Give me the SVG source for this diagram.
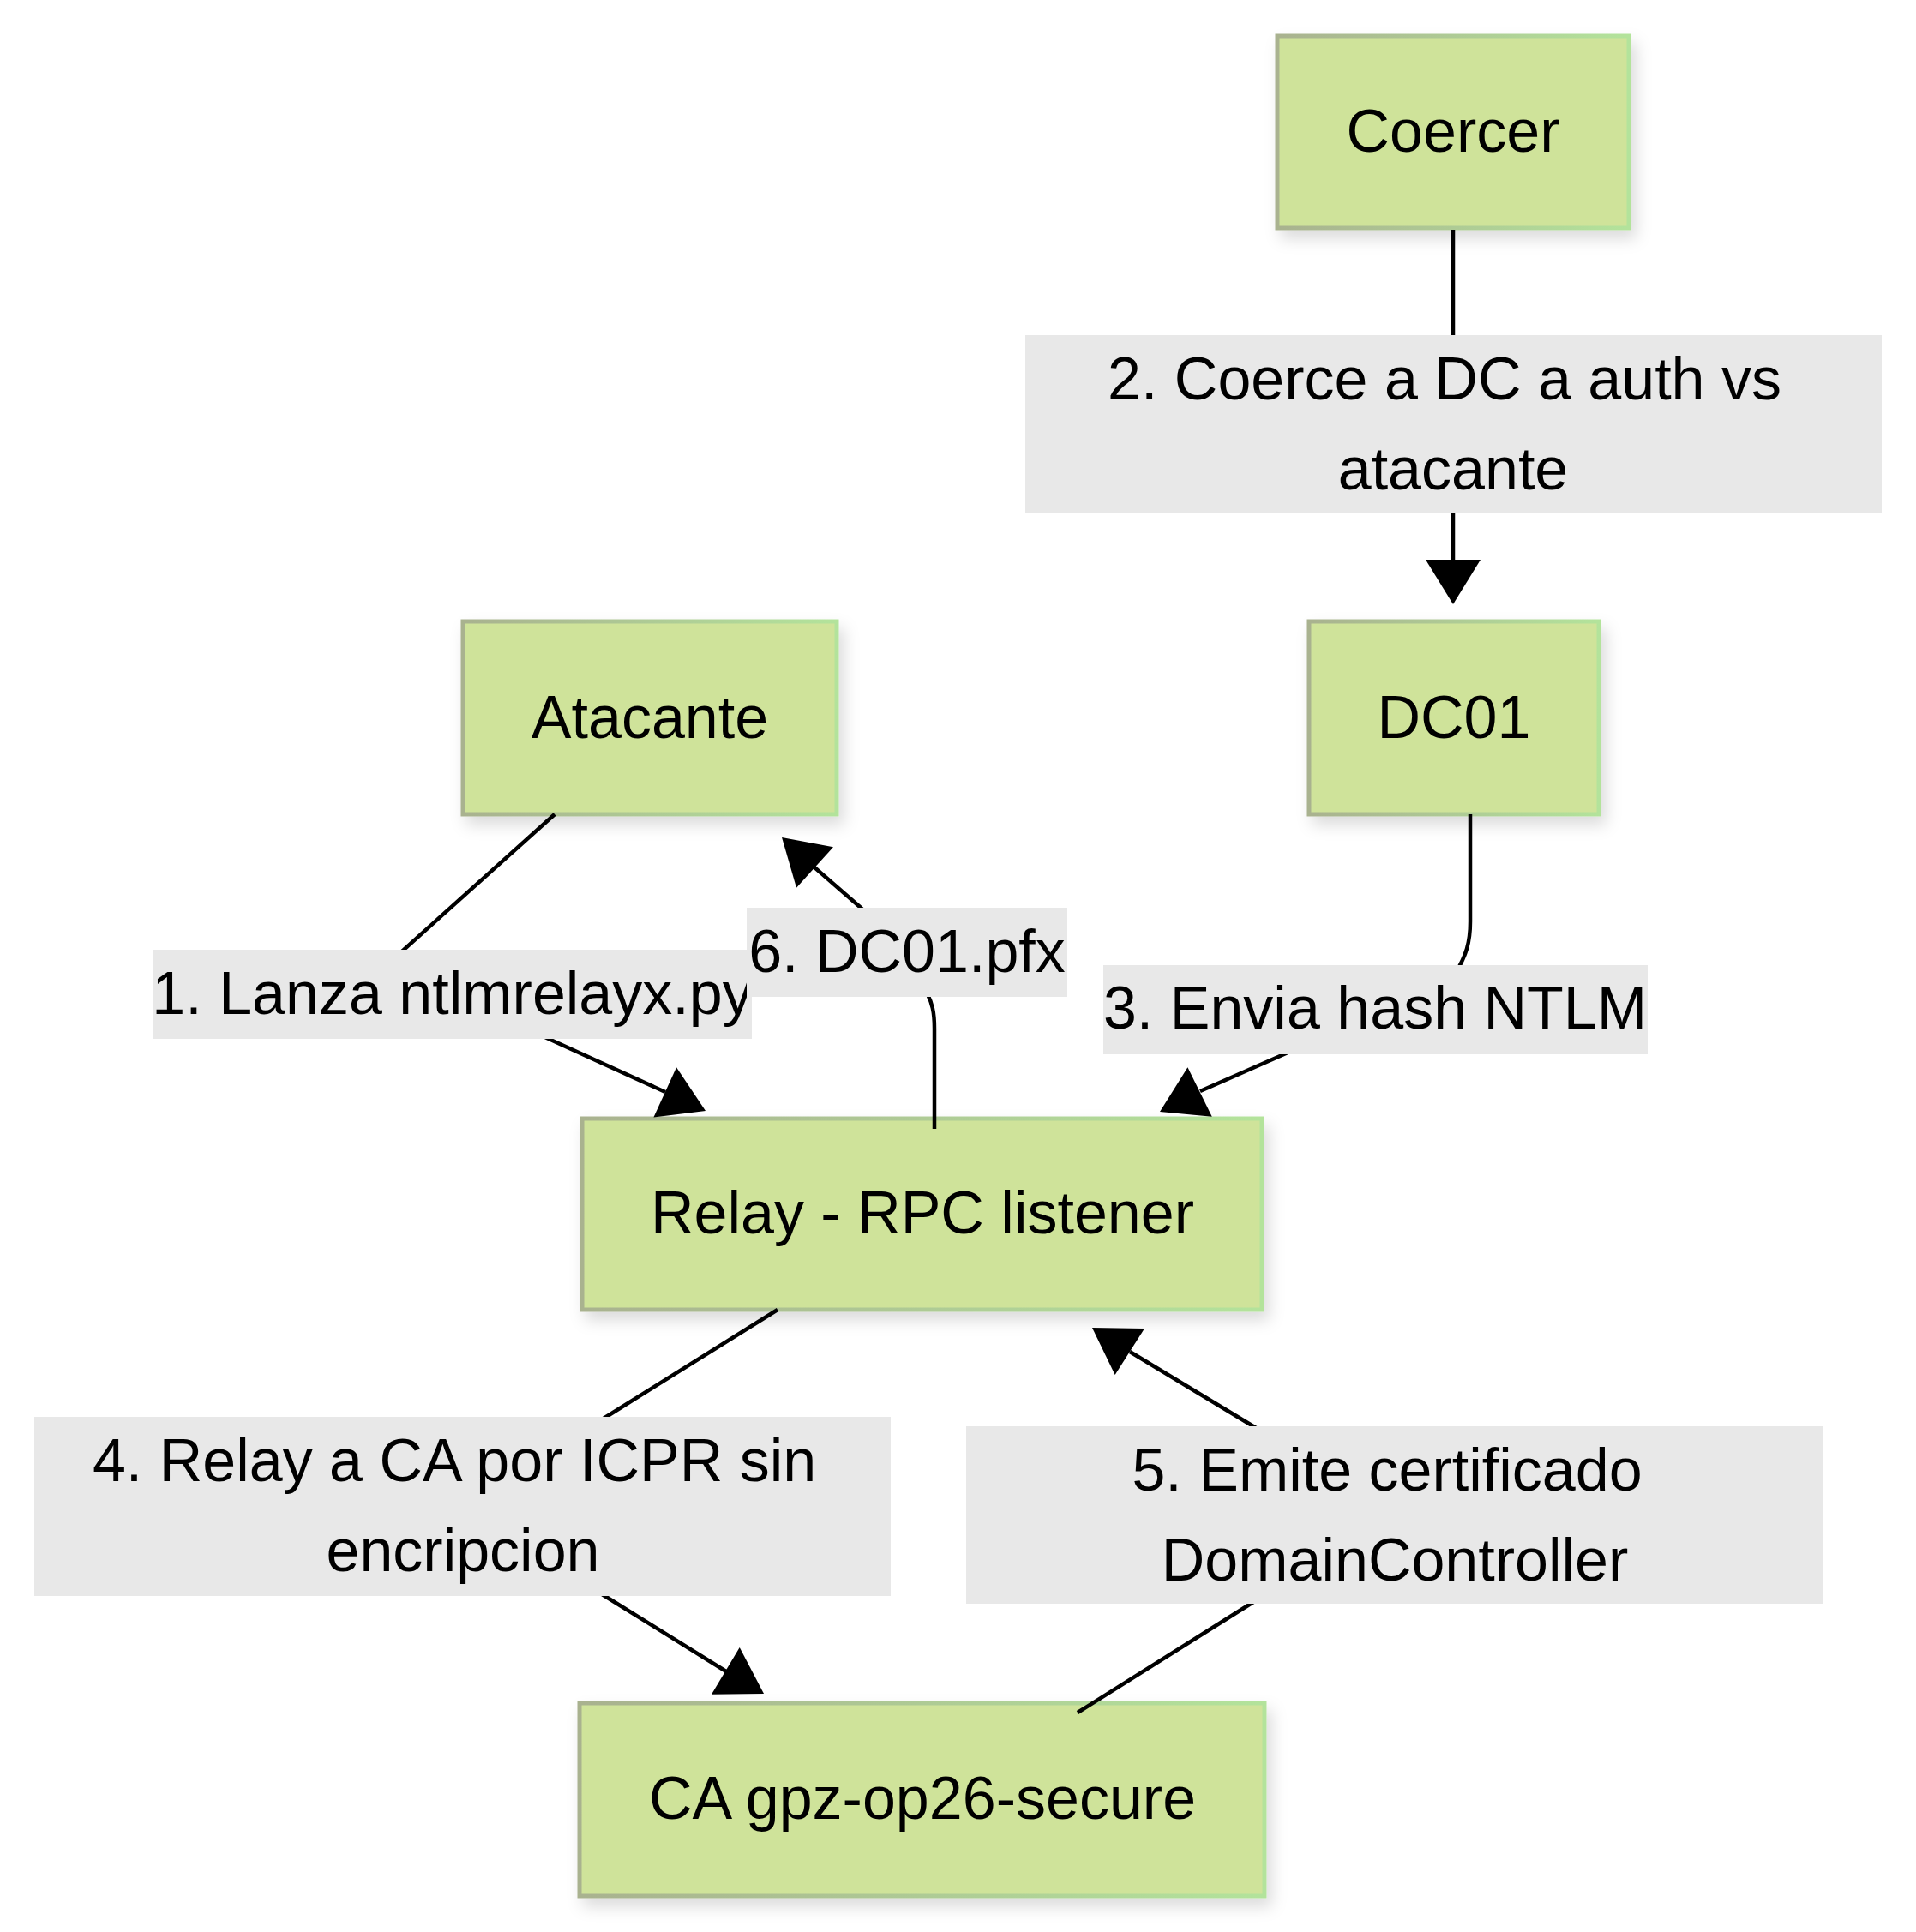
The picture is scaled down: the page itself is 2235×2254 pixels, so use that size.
<svg xmlns="http://www.w3.org/2000/svg" xmlns:xlink="http://www.w3.org/1999/xlink" width="2235" height="2254" viewBox="0 0 2235 2254">
<style>
.node rect{fill:#cfe39a;stroke:url(#bord);stroke-width:5;filter:url(#shadow)}
.node text,.lbl text{font-family:"Liberation Sans",Arial,sans-serif;font-size:70px;fill:#000;text-anchor:middle}
.lbl rect{fill:#e8e8e8}
.edge{fill:none;stroke:#000;stroke-width:4.5}
.ah{fill:#000}
</style>
<defs>
<linearGradient id="bord" x1="0" y1="0" x2="1" y2="0">
<stop offset="0" stop-color="#a9b28f"/>
<stop offset="1" stop-color="#b3e39b"/>
</linearGradient>
<filter id="shadow" x="-10%" y="-10%" width="130%" height="140%">
<feDropShadow dx="6" dy="10" stdDeviation="9" flood-color="#000" flood-opacity="0.14"/>
</filter>
<path id="arrow" d="M-52,-32 L0,0 L-52,32 Z"/>
</defs>
<rect width="2235" height="2254" fill="#fff"/>
<g id="nodes">
<g id="coercer" class="node"><rect x="1490" y="42" width="410" height="224"/><text x="1695" y="177">Coercer</text></g>
<g id="atacante" class="node"><rect x="540" y="725" width="436" height="225"/><text x="758" y="861">Atacante</text></g>
<g id="dc01" class="node"><rect x="1527" y="725" width="338" height="225"/><text x="1696" y="861">DC01</text></g>
<g id="relay" class="node"><rect x="679" y="1305" width="793" height="223"/><text x="1076" y="1439">Relay - RPC listener</text></g>
<g id="ca" class="node"><rect x="676" y="1987" width="799" height="225"/><text x="1076" y="2122">CA gpz-op26-secure</text></g>
</g>
<g id="connectors">
<path class="edge" d="M647,950 L471,1108 L527,1160 L640,1212 L776,1274"/>
<path class="edge" d="M1695,268 L1695,653"/>
<path class="edge" d="M1715,950 L1715,1075 C1715,1100 1710,1115 1698,1135 L1606,1177 L1500,1229 L1400,1273"/>
<path class="edge" d="M907,1528 L707,1653 L540,1757 L707,1863 L847,1950"/>
<path class="edge" d="M1257,1998 L1459,1871 L1627,1767 L1462,1664 L1318,1577"/>
<path class="edge" d="M1090,1317 L1090,1200 C1090,1180 1087,1170 1082,1160 L1058,1110 L1003,1058 L949,1011"/>
<use xlink:href="#arrow" class="ah" transform="translate(823,1296) rotate(24.6)"/>
<use xlink:href="#arrow" class="ah" transform="translate(1695,705) rotate(90)"/>
<use xlink:href="#arrow" class="ah" transform="translate(1353,1297) rotate(153.7)"/>
<use xlink:href="#arrow" class="ah" transform="translate(891,1976) rotate(30.8)"/>
<use xlink:href="#arrow" class="ah" transform="translate(1274,1549) rotate(-147.5)"/>
<use xlink:href="#arrow" class="ah" transform="translate(912,977) rotate(-137.8)"/>
<g id="label1" class="lbl"><rect x="178" y="1108" width="699" height="104"/><text x="527.5" y="1183">1. Lanza ntlmrelayx.py</text></g>
<g id="label2" class="lbl"><rect x="1196" y="391" width="999" height="207"/><text x="1685" y="466">2. Coerce a DC a auth vs</text><text x="1695" y="571">atacante</text></g>
<g id="label3" class="lbl"><rect x="1287" y="1126" width="635" height="104"/><text x="1604" y="1200">3. Envia hash NTLM</text></g>
<g id="label4" class="lbl"><rect x="40" y="1653" width="999" height="209"/><text x="530" y="1728">4. Relay a CA por ICPR sin</text><text x="540" y="1833">encripcion</text></g>
<g id="label5" class="lbl"><rect x="1127" y="1664" width="999" height="207"/><text x="1618" y="1739">5. Emite certificado</text><text x="1627" y="1844">DomainController</text></g>
<g id="label6" class="lbl"><rect x="871" y="1059" width="374" height="104"/><text x="1058" y="1134">6. DC01.pfx</text></g>
</g>
</svg>
